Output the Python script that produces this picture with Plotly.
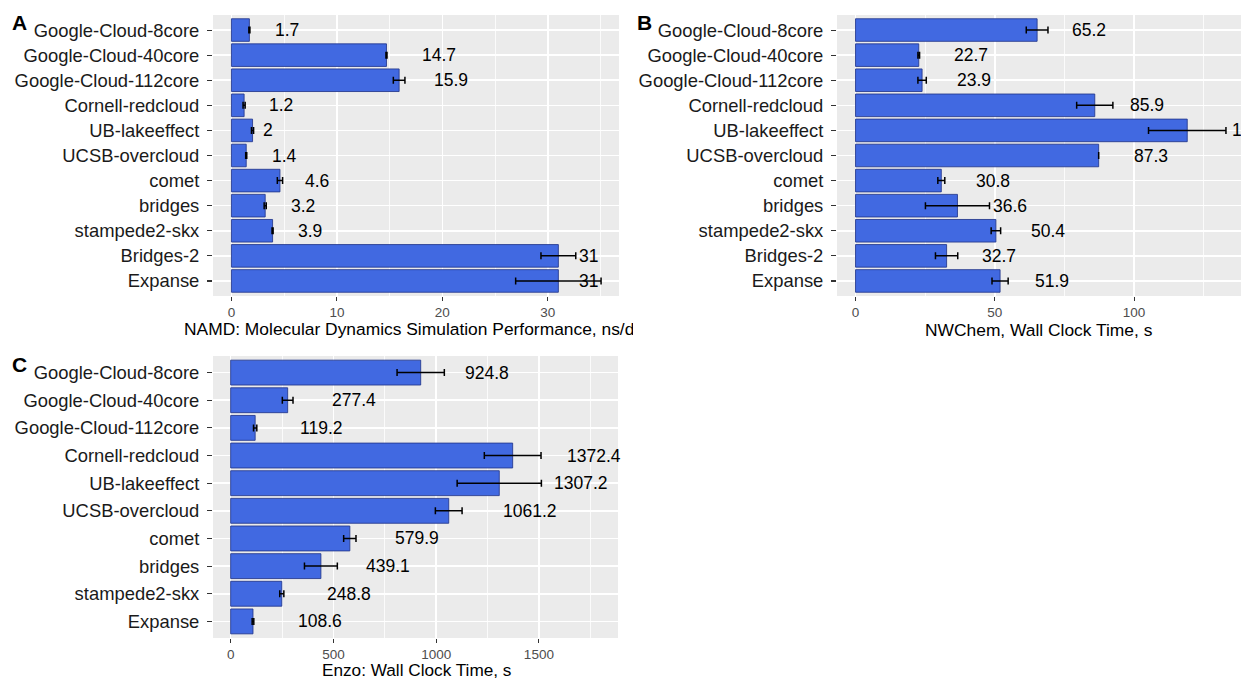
import plotly.graph_objects as go

# ---------------- data ----------------
cats_ab = ["Google-Cloud-8core", "Google-Cloud-40core", "Google-Cloud-112core",
           "Cornell-redcloud", "UB-lakeeffect", "UCSB-overcloud", "comet",
           "bridges", "stampede2-skx", "Bridges-2", "Expanse"]
cats_c = ["Google-Cloud-8core", "Google-Cloud-40core", "Google-Cloud-112core",
          "Cornell-redcloud", "UB-lakeeffect", "UCSB-overcloud", "comet",
          "bridges", "stampede2-skx", "Expanse"]

namd_vals = [1.7, 14.7, 15.9, 1.2, 2.0, 1.4, 4.6, 3.2, 3.9, 31.0, 31.0]
namd_err = [0.05, 0.05, 0.55, 0.1, 0.1, 0.05, 0.25, 0.1, 0.05, 1.65, 4.05]

nwchem_vals = [65.2, 22.7, 23.9, 85.9, 119.1, 87.3, 30.8, 36.6, 50.4, 32.7, 51.9]
nwchem_err = [3.9, 0.3, 1.5, 6.5, 13.9, 0.0, 1.25, 11.5, 1.7, 4.0, 2.9]

enzo_vals = [924.8, 277.4, 119.2, 1372.4, 1307.2, 1061.2, 579.9, 439.1, 248.8, 108.6]
enzo_err = [115, 26, 8, 138, 205, 65, 30, 80, 10, 4]

titles = ["NAMD: Molecular Dynamics Simulation Performance, ns/day",
          "NWChem, Wall Clock Time, s",
          "Enzo: Wall Clock Time, s"]
letters = ["A", "B", "C"]

# ---------------- styling ----------------
W, H = 1241, 678
FONT = "Liberation Sans, Arial, Helvetica, sans-serif"
BAR = "#4169E1"
BAR_LINE = "rgba(35,55,140,0.85)"
BG = "#EBEBEB"
LABEL_SIZE = 17.5
TITLE_SIZE = 17.2


def px_x(p):
    return p / W


def px_y(p):
    return 1 - p / H


def text_w(s, size):
    return sum(0.556 if c.isdigit() else 0.278 for c in s) * size


fig = go.Figure()

panels = [
    dict(cats=cats_ab, vals=namd_vals, err=namd_err, xa="x", ya="y",
         xdom=[px_x(213), px_x(619)], ydom=[px_y(296), px_y(15)],
         rng=[-1.75, 36.75], dtick=10, mdtick=5),
    dict(cats=cats_ab, vals=nwchem_vals, err=nwchem_err, xa="x2", ya="y2",
         xdom=[px_x(837), 1.0], ydom=[px_y(296), px_y(15)],
         rng=[-6.65, 138.4], dtick=50, mdtick=25),
    dict(cats=cats_c, vals=enzo_vals, err=enzo_err, xa="x3", ya="y3",
         xdom=[px_x(213), px_x(618)], ydom=[px_y(638), px_y(356)],
         rng=[-86, 1885], dtick=500, mdtick=250),
]

annotations = []
for i, p in enumerate(panels):
    fig.add_trace(go.Bar(
        x=p["vals"], y=p["cats"], orientation="h", width=0.9,
        marker=dict(color=BAR, line=dict(color=BAR_LINE, width=1)),
        error_x=dict(type="data", array=p["err"], color="black",
                     thickness=1.5, width=3.5),
        xaxis=p["xa"], yaxis=p["ya"], hoverinfo="skip", showlegend=False,
    ))
    n = len(p["cats"])
    suffix = "" if i == 0 else str(i + 1)
    fig.layout["xaxis" + suffix] = dict(
        domain=p["xdom"], anchor=p["ya"], range=p["rng"],
        tick0=0, dtick=p["dtick"], showgrid=True, gridcolor="white",
        gridwidth=1.6, zeroline=False, showline=False,
        ticks="outside", ticklen=4, tickwidth=1.1, tickcolor="#333333",
        tickfont=dict(family=FONT, size=13.5, color="#4D4D4D"),
        minor=dict(tick0=0, dtick=p["mdtick"], showgrid=True,
                   gridcolor="white", gridwidth=0.8, ticks=""),
        fixedrange=True,
    )
    fig.layout["yaxis" + suffix] = dict(
        domain=p["ydom"], anchor=p["xa"], type="category",
        categoryorder="array", categoryarray=p["cats"],
        range=[n - 0.4, -0.6], showgrid=True, gridcolor="white",
        gridwidth=1.6, zeroline=False, showline=False,
        ticks="outside", ticklen=5, tickwidth=1.1, tickcolor="#333333",
        ticklabelstandoff=4,
        tickfont=dict(family=FONT, size=18.4, color="#1A1A1A"),
        fixedrange=True,
    )
    # value labels (placed like ggplot hjust = -1)
    for c, v in zip(p["cats"], p["vals"]):
        lab = f"{v:g}"
        annotations.append(dict(
            x=v, y=c, xref=p["xa"], yref=p["ya"], text=lab,
            showarrow=False, xanchor="left", yanchor="middle",
            xshift=text_w(lab, LABEL_SIZE), borderpad=0,
            font=dict(family=FONT, size=LABEL_SIZE, color="black"),
        ))

# axis titles
annotations.append(dict(
    x=px_x(183), y=px_y(329), xref="paper", yref="paper", text=titles[0],
    showarrow=False, xanchor="left", yanchor="middle", align="left",
    width=449, borderpad=0,
    font=dict(family=FONT, size=17.4, color="black")))
annotations.append(dict(
    x=px_x(1039), y=px_y(330), xref="paper", yref="paper", text=titles[1],
    showarrow=False, xanchor="center", yanchor="middle",
    font=dict(family=FONT, size=17.4, color="black")))
annotations.append(dict(
    x=px_x(416), y=px_y(669.5), xref="paper", yref="paper", text=titles[2],
    showarrow=False, xanchor="center", yanchor="middle", borderpad=0,
    font=dict(family=FONT, size=TITLE_SIZE, color="black")))

# panel letters
for lt, (lx, ly) in zip(letters, [(20, 22), (644, 22), (20, 364)]):
    annotations.append(dict(
        x=px_x(lx), y=px_y(ly), xref="paper", yref="paper",
        text="<b>" + lt + "</b>", showarrow=False,
        xanchor="center", yanchor="middle",
        font=dict(family=FONT, size=21, color="black")))

fig.update_layout(
    width=W, height=H, margin=dict(l=0, r=0, t=0, b=0),
    paper_bgcolor="white", plot_bgcolor=BG, showlegend=False,
    annotations=annotations, font=dict(family=FONT),
)

fig.write_html(
    "out.html",
    config={"displayModeBar": False, "staticPlot": True},
    post_script="document.body.style.margin='0px';document.body.style.padding='0px';",
)
